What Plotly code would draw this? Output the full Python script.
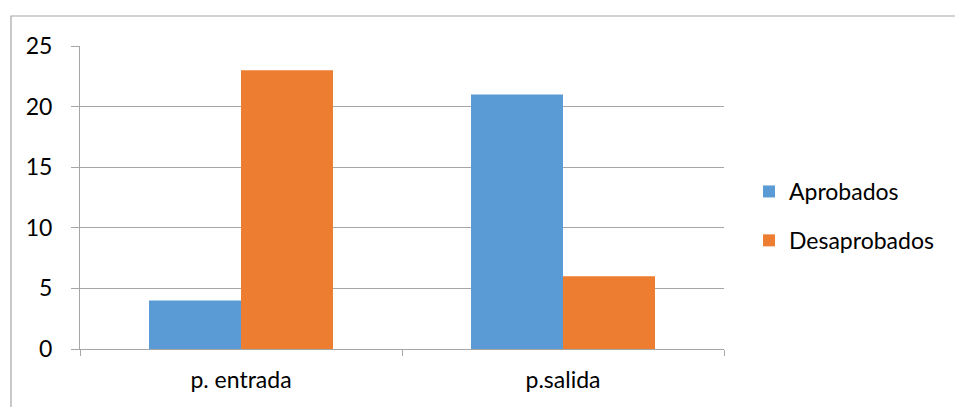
import plotly.graph_objects as go

categories = ["p. entrada", "p.salida"]
aprobados = [4, 21]
desaprobados = [23, 6]
y_ticks = [0, 5, 10, 15, 20, 25]

BLUE = "#5B9BD5"
ORANGE = "#ED7D31"
GRID = "#A6A6A6"
FONT = dict(family="Lato, 'Noto Sans', sans-serif", size=23, color="#000000")

fig = go.Figure()
fig.add_trace(go.Bar(name="Aprobados", x=categories, y=aprobados,
                     marker=dict(color=BLUE, line=dict(width=0)),
                     legendgroup="a"))
fig.add_trace(go.Bar(name="Desaprobados", x=categories, y=desaprobados,
                     marker=dict(color=ORANGE, line=dict(width=0)),
                     legendgroup="d"))

W, H = 955, 407
L, R, T, B = 80, 231, 46, 58
pw, ph = W - L - R, H - T - B

fig.update_layout(
    width=W, height=H,
    margin=dict(l=L, r=R, t=T, b=B, pad=0),
    paper_bgcolor="white", plot_bgcolor="white",
    font=FONT,
    barmode="group", bargap=0.4286, bargroupgap=0,
    showlegend=True,
    legend=dict(x=1.0 + (749 - 724) / pw, xanchor="left",
                y=0.5 - (216 - 197.5) / ph, yanchor="middle",
                traceorder="grouped", tracegroupgap=16,
                font=FONT, bgcolor="rgba(0,0,0,0)"),
    xaxis=dict(type="category", showline=True, linecolor=GRID, linewidth=1,
               ticks="outside", tickson="boundaries", ticklen=6,
               tickcolor=GRID, showgrid=False, tickfont=FONT,
               ticklabelstandoff=10),
    yaxis=dict(range=[0, 25], tickvals=y_ticks, showline=True, linecolor=GRID,
               linewidth=1, ticks="outside", ticklen=8, tickcolor=GRID,
               showgrid=True, gridcolor=GRID, gridwidth=1, zeroline=False,
               tickfont=FONT, ticklabelstandoff=14),
    shapes=[dict(type="rect", xref="paper", yref="paper",
                 x0=(11 - L) / pw, x1=(W + 20 - L) / pw,
                 y0=-(H + 20 - (H - B)) / ph, y1=1 + (T - 16) / ph,
                 line=dict(color=GRID, width=1.2), fillcolor="rgba(0,0,0,0)",
                 layer="below")],
)

fig.write_html("out.html")
